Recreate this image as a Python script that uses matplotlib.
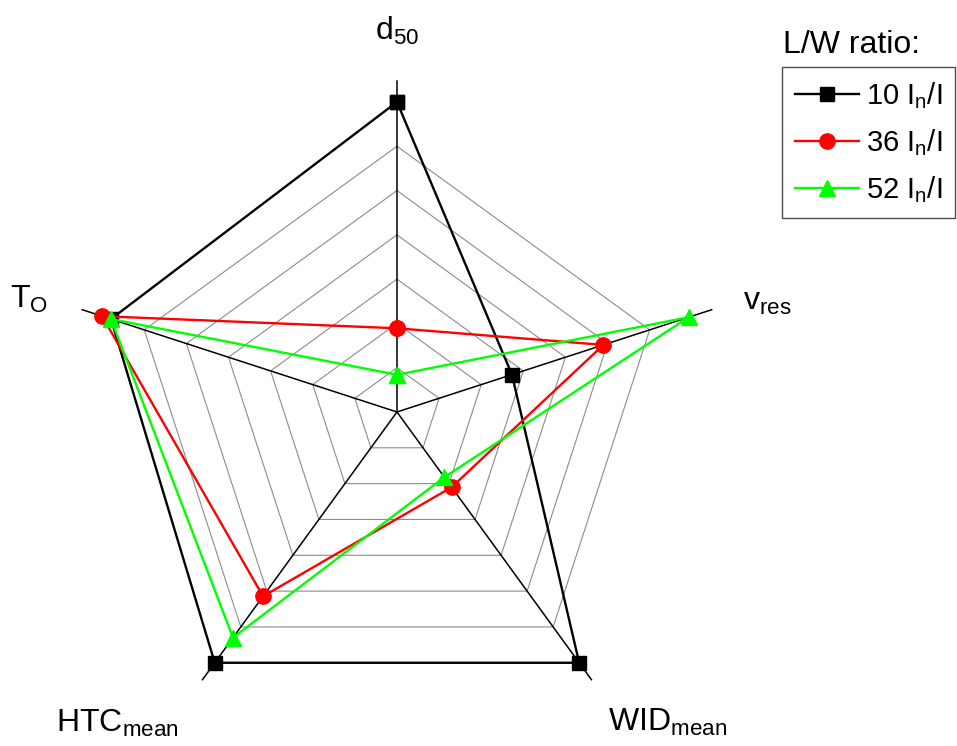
import numpy as np
import matplotlib
matplotlib.use('Agg')
import matplotlib.pyplot as plt

plt.rcParams['font.family'] = ['Liberation Sans', 'DejaVu Sans']
plt.rcParams['mathtext.default'] = 'regular'

# ── data (normalised radius, 0..1) ──────────────────
AXES = ['d$_{50}$', 'v$_{res}$', 'WID$_{mean}$', 'HTC$_{mean}$', 'T$_O$']
SERIES = ['10 I$_n$/I', '36 I$_n$/I', '52 I$_n$/I']
ratio_10 = [1.00, 0.39, 1.00, 1.00, 0.97]
ratio_36 = [0.27, 0.70, 0.30, 0.735, 1.00]
ratio_52 = [0.12, 0.99, 0.26, 0.90, 0.97]
GRID_LEVELS = 7

n = len(AXES)
theta = np.arange(n) * 2 * np.pi / n

fig = plt.figure(figsize=(9.57, 7.46), dpi=100)
ax = fig.add_axes([0.0682, 0.0031, 0.6932, 0.8893], projection='polar')
ax.set_theta_zero_location('N')
ax.set_theta_direction(-1)
ax.set_ylim(0, 1.07)
ax.grid(False)
ax.spines['polar'].set_visible(False)
ax.set_xticks([])
ax.set_yticks([])

closed = np.append(theta, theta[0])

# pentagon grid
for k in range(1, GRID_LEVELS):
    ax.plot(closed, [k / GRID_LEVELS] * (n + 1), color='#8c8c8c', lw=0.8, zorder=1)

# spokes
for t in theta:
    ax.plot([t, t], [0, 1.07], color='black', lw=1.1, zorder=2)

styles = [
    (ratio_10, 'black', 's', 9.5),
    (ratio_36, '#ff0000', 'o', 11),
    (ratio_52, '#00ff00', '^', 11),
]
for (vals, col, mk, ms), lab in zip(styles, SERIES):
    ax.plot(closed, vals + vals[:1], color=col, lw=1.7, marker=mk, ms=ms,
            label=lab, zorder=3, clip_on=False)

# axis labels (angle in rad, radius)
label_pos = [(0.0, 1.23), (1.281, 1.245), (2.425, 1.33), (3.873, 1.35), (5.009, 1.24)]
for txt, (t, r) in zip(AXES, label_pos):
    ax.text(t, r, txt, fontsize=23, ha='center', va='center')

# legend
fig.text(783 / 957, 1 - 45 / 746, 'L/W ratio:', fontsize=23, ha='left', va='center')
leg = ax.legend(loc='upper left', bbox_to_anchor=(782 / 957, 1 - 67 / 746),
                bbox_transform=fig.transFigure, fontsize=21, frameon=True,
                fancybox=False, edgecolor='#222222', handlelength=2.2,
                handletextpad=0.22, labelspacing=0.55, borderpad=0.45,
                borderaxespad=0, numpoints=1)
leg.get_frame().set_linewidth(1.0)

fig.savefig('out.png', dpi=100)
